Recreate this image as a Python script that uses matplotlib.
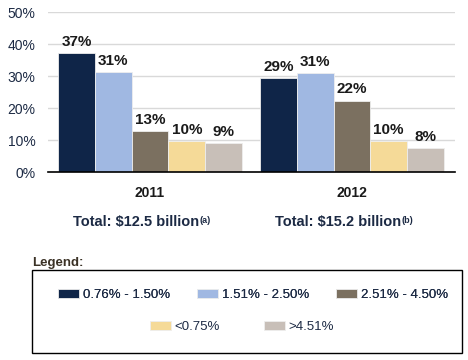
import numpy as np
import matplotlib.pyplot as plt
from matplotlib.patches import Rectangle

plt.rcParams['font.family'] = ['Liberation Sans', 'DejaVu Sans']

years = ['2011', '2012']
totals = ['Total: $12.5 billion', 'Total: $15.2 billion']
notes = ['(a)', '(b)']
categories = ['0.76% - 1.50%', '1.51% - 2.50%', '2.51% - 4.50%', '<0.75%', '>4.51%']
values = [
    [37.2, 31.1, 12.9, 9.6, 9.1],   # 2011
    [29.3, 31.0, 22.3, 9.7, 7.6],   # 2012
]
labels = [
    ['37%', '31%', '13%', '10%', '9%'],
    ['29%', '31%', '22%', '10%', '8%'],
]
colors = ['#0f2548', '#a0b8e2', '#7b7060', '#f5da98', '#c8bfb8']

text_col = '#1c2a44'

fig = plt.figure(figsize=(4.68, 3.6), dpi=100)
ax = fig.add_axes([48 / 468, 1 - 172 / 360, 407 / 468, 160 / 360])

x = np.arange(len(years))
w = 0.182
handles = []
for i, cat in enumerate(categories):
    pos = x + (i - 2) * w
    vals = [values[g][i] for g in range(len(years))]
    bars = ax.bar(pos, vals, width=w, color=colors[i], edgecolor='#eeeeee',
                  linewidth=0.6, label=cat, zorder=3)
    handles.append(bars)
    for g, b in enumerate(bars):
        ax.annotate(labels[g][i], (b.get_x() + b.get_width() / 2, b.get_height()),
                    xytext=(0, 3), textcoords='offset points', ha='center', va='bottom',
                    fontsize=11, fontweight='bold', color='#1a1a1a')

ax.set_xlim(-0.505, 1.51)
ax.set_ylim(0, 50)
ax.set_yticks(range(0, 51, 10))
ax.set_yticklabels([f'{v}%' for v in range(0, 51, 10)], fontsize=10, color=text_col)
ax.tick_params(axis='y', length=0, pad=9)
ax.set_xticks([])
ax.grid(axis='y', color='#d9d9d9', linewidth=1, zorder=0)
for s in ['top', 'right', 'left']:
    ax.spines[s].set_visible(False)
ax.spines['bottom'].set_color('black')
ax.spines['bottom'].set_linewidth(1.2)
ax.spines['bottom'].set_zorder(4)

# group labels under the axis
for g, yr in enumerate(years):
    ax.text(x[g], -21 / 32 * 10, yr, ha='center', va='center', fontsize=10,
            fontweight='bold', color='#1a1a1a')
    t = ax.text(x[g] - 0.068, -50 / 32 * 10, totals[g], ha='center', va='center',
                fontsize=10.5, fontweight='bold', color=text_col)
    ax.annotate(notes[g], xy=(1.0, 0.95), xycoords=t, ha='left', va='top',
                fontsize=6.5, fontweight='bold', color=text_col)

# legend box
fig.text(32 / 468, 1 - 263 / 360, 'Legend:', fontsize=9.5, fontweight='bold',
         color='#3b3226', ha='left', va='center')
fig.patches.append(Rectangle((32 / 468, 1 - 353 / 360), 430 / 468, 83 / 360,
                             transform=fig.transFigure, fill=False,
                             edgecolor='black', linewidth=1))

leg1 = fig.legend(handles[:3], categories[:3], ncol=3, frameon=False,
                  loc='center', bbox_to_anchor=(253 / 468, 1 - 295 / 360),
                  fontsize=9.5, handlelength=1.6, handleheight=0.75,
                  handletextpad=0.3, columnspacing=2.0, labelcolor=text_col)
leg2 = fig.legend(handles[3:], categories[3:], ncol=2, frameon=False,
                  loc='center', bbox_to_anchor=(242 / 468, 1 - 327 / 360),
                  fontsize=9.5, handlelength=1.6, handleheight=0.75,
                  handletextpad=0.3, columnspacing=3.3, labelcolor=text_col)
fig.add_artist(leg1)

fig.savefig('out.png', dpi=100)
